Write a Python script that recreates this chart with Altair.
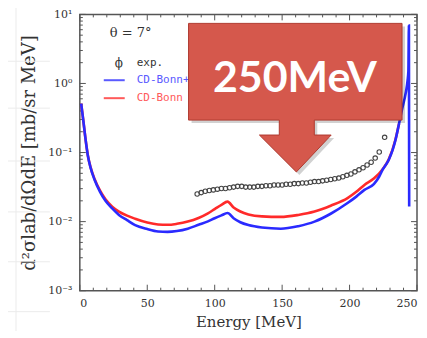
import altair as alt
import pandas as pd

W, H = 338, 277

# ---- data ----
blue_E = [1, 2.5, 4, 6, 8, 11, 15, 19, 24, 29, 35, 41, 50, 58, 65, 72, 80, 88, 95, 100,
          105, 109.5, 114, 119, 125, 135, 149, 162, 174, 186, 198.5, 205, 211, 218, 222,
          224.4, 229, 232, 234, 236.7, 239, 241.6, 243, 243.6, 244.0, 244.2]
blue_v = [0.51, 0.30, 0.17, 0.089, 0.060, 0.040, 0.027, 0.020, 0.0155, 0.0125, 0.0105,
          0.0089, 0.0078, 0.0072, 0.0071, 0.0073, 0.0079, 0.0090, 0.0101, 0.0112,
          0.0123, 0.0133, 0.0112, 0.0098, 0.0089, 0.0082, 0.0079, 0.0086, 0.0100,
          0.0130, 0.0186, 0.0230, 0.0288, 0.035, 0.045, 0.056, 0.078, 0.110, 0.151,
          0.263, 0.43, 0.72, 1.1, 1.5, 6.9, 0.0166]

red_E = [1, 2.5, 4, 6, 8, 11, 15, 19, 24, 29, 35, 41, 50, 58, 65, 72, 80, 88, 95, 100,
         105, 109.5, 114, 119, 125, 135, 149, 162, 174, 186, 198.5, 205, 211, 218, 224.4,
         229, 234, 236.7]
red_v = [0.51, 0.30, 0.17, 0.090, 0.061, 0.041, 0.028, 0.021, 0.0165, 0.0140, 0.0122,
         0.0110, 0.0097, 0.0091, 0.0090, 0.0093, 0.0100, 0.0113, 0.0132, 0.0152, 0.0175,
         0.0195, 0.0160, 0.0140, 0.0127, 0.0119, 0.0117, 0.0125, 0.0140, 0.0170, 0.0219,
         0.027, 0.034, 0.042, 0.057, 0.079, 0.153, 0.263]

exp_E = [87, 90, 93, 96, 99, 102, 105, 108, 111, 114, 117, 120, 123, 126, 129, 132, 135,
         138, 141, 144, 147, 150, 153, 156, 159, 162, 165, 168, 171, 174, 177, 180, 183,
         186, 189, 192, 195, 198, 201, 204, 207, 210, 213, 216, 219, 222, 226]
exp_v = [0.0251, 0.0263, 0.0275, 0.0282, 0.0288, 0.0295, 0.0302, 0.0302, 0.0309, 0.0316,
         0.0324, 0.0324, 0.0316, 0.0316, 0.0316, 0.0324, 0.0324, 0.0331, 0.0331, 0.0339,
         0.0339, 0.0339, 0.0347, 0.0347, 0.0355, 0.0355, 0.0363, 0.0363, 0.0372, 0.0380,
         0.0380, 0.0389, 0.0398, 0.0407, 0.0417, 0.0427, 0.0447, 0.0468, 0.0490, 0.0525,
         0.0562, 0.0603, 0.0661, 0.0724, 0.0832, 0.102, 0.166]

x_major = [0, 50, 100, 150, 200, 250]
x_minor = [10, 20, 30, 40, 60, 70, 80, 90, 110, 120, 130, 140, 160, 170, 180, 190,
           210, 220, 230, 240]
y_major = [0.001, 0.01, 0.1, 1, 10]
y_minor = [m * d for d in [0.001, 0.01, 0.1, 1] for m in range(2, 10)]

xscale = alt.Scale(domain=[0, 250], nice=False, zero=False)
yscale = alt.Scale(type="log", domain=[0.001, 10], nice=False)

SERIF = "DejaVu Serif"
MONO = "DejaVu Sans Mono"

label_expr = ("datum.value > 5 ? '10¹' : datum.value > 0.5 ? '10⁰' : "
              "datum.value > 0.05 ? '10⁻¹' : datum.value > 0.005 ? '10⁻²' : '10⁻³'")

base_x = alt.X("E:Q", scale=xscale,
               axis=alt.Axis(values=x_major, ticks=False, domain=False, grid=False,
                             labelFont=SERIF, labelFontSize=11, labelColor="#333",
                             labelPadding=7, title="Energy [MeV]", titleFont=SERIF,
                             titleFontSize=15, titleFontWeight="normal",
                             titleColor="#333", titlePadding=6))
base_y = alt.Y("v:Q", scale=yscale,
               axis=alt.Axis(values=y_major, ticks=False, domain=False, grid=False,
                             labelExpr=label_expr, labelFont=SERIF, labelFontSize=11,
                             labelColor="#333", labelPadding=8,
                             title="d²σlab/dΩdE [mb/sr MeV]", titleFont=SERIF,
                             titleFontSize=18, titleFontWeight="normal",
                             titleColor="#333", titlePadding=9))

red_layer = alt.Chart(pd.DataFrame({"E": red_E, "v": red_v})).mark_line(
    color="#ff2a2a", strokeWidth=2.6, interpolate="monotone").encode(
    x=base_x, y=base_y, order="E:Q")
blue_layer = alt.Chart(pd.DataFrame({"E": blue_E, "v": blue_v})).mark_line(
    color="#2a2aff", strokeWidth=2.6, interpolate="monotone").encode(
    x=alt.X("E:Q", scale=xscale), y=alt.Y("v:Q", scale=yscale), order=alt.Order("idx:Q")
).transform_window(idx="row_number()")

exp_layer = alt.Chart(pd.DataFrame({"E": exp_E, "v": exp_v})).mark_point(
    shape="circle", filled=False, size=20, color="#444", strokeWidth=1.1, opacity=1).encode(
    x=alt.X("E:Q", scale=xscale), y=alt.Y("v:Q", scale=yscale))

# ---- frame ticks (inward) ----
def xticks(vals, length):
    df = pd.DataFrame({"E": vals})
    bottom = alt.Chart(df).mark_rule(color="#555", strokeWidth=1).encode(
        x=alt.X("E:Q", scale=xscale), y=alt.value(H), y2=alt.value(H - length))
    top = alt.Chart(df).mark_rule(color="#555", strokeWidth=1).encode(
        x=alt.X("E:Q", scale=xscale), y=alt.value(0), y2=alt.value(length))
    return [bottom, top]

def yticks(vals, length):
    df = pd.DataFrame({"v": vals})
    left = alt.Chart(df).mark_rule(color="#555", strokeWidth=1).encode(
        y=alt.Y("v:Q", scale=yscale), x=alt.value(0), x2=alt.value(length))
    right = alt.Chart(df).mark_rule(color="#555", strokeWidth=1).encode(
        y=alt.Y("v:Q", scale=yscale), x=alt.value(W), x2=alt.value(W - length))
    return [left, right]

tick_layers = xticks(x_major, 6) + xticks(x_minor, 3) + yticks(y_major, 6) + yticks(y_minor, 3)

# ---- slide background lines (outside plot) ----
bg_h = pd.DataFrame({"y": [47, 94, 147, 198, 248, 298], "x": [-80] * 6, "x2": [-30] * 6})
bg_h_layer = alt.Chart(bg_h).mark_rule(color="#ebebeb", strokeWidth=1).encode(
    x=alt.X("x:Q", scale=None), x2="x2:Q", y=alt.Y("y:Q", scale=None))
bg_v_layer = alt.Chart(pd.DataFrame({"x": [-64], "y": [-20], "y2": [318]})).mark_rule(
    color="#ebebeb", strokeWidth=1).encode(
    x=alt.X("x:Q", scale=None), y=alt.Y("y:Q", scale=None), y2="y2:Q")

# ---- in-plot legend ----
def txt(s, x, y, color="#333", font=MONO, size=11, align="left", weight="normal"):
    return alt.Chart(pd.DataFrame({"t": [s]})).mark_text(
        font=font, fontSize=size, color=color, align=align, baseline="middle",
        fontWeight=weight).encode(text="t:N", x=alt.value(x), y=alt.value(y))

legend_layers = [
    txt("θ = 7°", 30, 19, font=SERIF, size=13),
    txt("ϕ", 35, 49, font=SERIF, size=12),
    txt("exp.", 57, 49, size=11),
    alt.Chart(pd.DataFrame({"a": [0]})).mark_rule(color="#5a5aff", strokeWidth=2).encode(
        x=alt.value(24), x2=alt.value(45), y=alt.value(66)),
    txt("CD-Bonn+Δ", 57, 66, color="#5a5aff"),
    alt.Chart(pd.DataFrame({"a": [0]})).mark_rule(color="#ff5a5a", strokeWidth=2).encode(
        x=alt.value(24), x2=alt.value(45), y=alt.value(84)),
    txt("CD-Bonn", 57, 84, color="#ff5a5a"),
]

# ---- callout arrow "250MeV" ----
arrow_path = ("M -1 -0.696 L 1 -0.696 L 1 0.210 L 0.178 0.210 L 0.178 0.350 "
              "L 0.336 0.350 L 0.01 0.696 L -0.336 0.350 L -0.150 0.350 "
              "L -0.150 0.210 L -1 0.210 Z")
shadow = alt.Chart(pd.DataFrame({"a": [0]})).mark_point(
    shape=arrow_path, size=214 ** 2, filled=True, fill="#000", opacity=0.18,
    strokeWidth=0).encode(x=alt.value(219), y=alt.value(86.5))
arrow = alt.Chart(pd.DataFrame({"a": [0]})).mark_point(
    shape=arrow_path, size=214 ** 2, filled=True, fill="#d5584c", opacity=1,
    stroke="#b0392f", strokeWidth=1).encode(x=alt.value(216), y=alt.value(83.5))
label = alt.Chart(pd.DataFrame({"t": ["250MeV"]})).mark_text(
    font="Lato", fontSize=43, fontWeight="bold", color="white", align="center",
    baseline="alphabetic").encode(text="t:N", x=alt.value(215.5), y=alt.value(78))

chart = alt.layer(
    bg_h_layer, bg_v_layer, *tick_layers, red_layer, blue_layer, exp_layer,
    *legend_layers, shadow, arrow, label
).properties(
    width=W, height=H,
    autosize=alt.AutoSizeParams(type="none"),
    padding={"left": 72, "top": 6, "right": 2, "bottom": 40},
).configure_view(stroke="#555", strokeWidth=1.5)

chart.save("out.html", embed_options={"renderer": "svg", "actions": False})
